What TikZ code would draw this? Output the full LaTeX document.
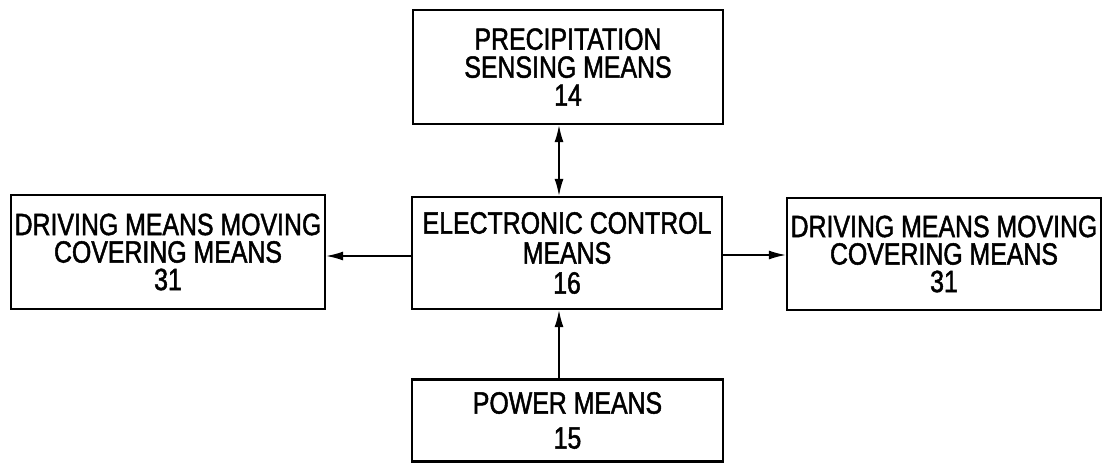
\documentclass[tikz,border=0pt]{standalone}
\usepackage{fontspec}
\setmainfont{Liberation Sans}[FakeStretch=0.81,FakeBold=1.5]
\usetikzlibrary{arrows.meta}
\begin{document}
\begin{tikzpicture}[x=1pt,y=1pt,
  blk/.style={draw, line width=2.4pt, rectangle, inner sep=0pt, align=center},
  arr/.style={line width=1.4pt, -{Latex[length=17pt,width=9pt]}},
  darr/.style={line width=1.4pt, {Latex[length=17pt,width=9pt]}-{Latex[length=17pt,width=9pt]}}]
\useasboundingbox (0,0) rectangle (1104,-463);
\node[blk, minimum width=310pt, minimum height=114pt, font=\fontsize{30.7}{28}\selectfont] (sense) at (568,-67) {PRECIPITATION\\SENSING MEANS\\14};
\node[blk, minimum width=310pt, minimum height=112pt, font=\fontsize{30.7}{30}\selectfont] (ctrl) at (567,-253) {ELECTRONIC CONTROL\\MEANS\\16};
\node[blk, minimum width=314pt, minimum height=114pt, font=\fontsize{30.7}{27.5}\selectfont] (left) at (168,-252) {DRIVING MEANS MOVING\\COVERING MEANS\\31};
\node[blk, minimum width=314pt, minimum height=112pt, font=\fontsize{30.7}{27.5}\selectfont] (right) at (944,-254) {DRIVING MEANS MOVING\\COVERING MEANS\\31};
\node[blk, minimum width=311pt, minimum height=82pt, font=\fontsize{30.7}{35}\selectfont] (power) at (567.5,-420.5) {POWER MEANS\\15};
\coordinate (vx) at (559,0);
\coordinate (hl) at (0,-256);
\coordinate (hr) at (0,-255);
\draw[darr] (sense.south -| vx) -- (ctrl.north -| vx);
\draw[arr] (ctrl.west |- hl) -- (left.east |- hl);
\draw[arr] (ctrl.east |- hr) -- (right.west |- hr);
\draw[arr] (power.north -| vx) -- (ctrl.south -| vx);
\end{tikzpicture}
\end{document}
